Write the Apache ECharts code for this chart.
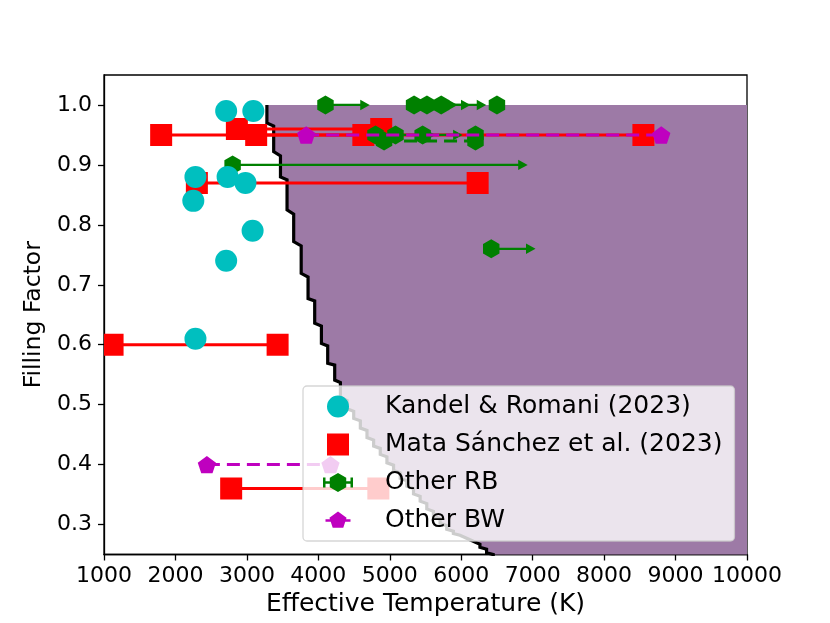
<!DOCTYPE html>
<html><head><meta charset="utf-8">
<script src="https://cdn.jsdelivr.net/npm/echarts@6/dist/echarts.min.js"></script>
<style>html,body{margin:0;padding:0;background:#fff}#c{width:830px;height:623px}</style>
</head><body><div id="c"></div>
<script>
// ---- tick labels ----
const xTicks = [1000, 2000, 3000, 4000, 5000, 6000, 7000, 8000, 9000, 10000];
const yTicks = [0.3, 0.4, 0.5, 0.6, 0.7, 0.8, 0.9, 1.0];

// ---- Kandel & Romani (2023) ----
const kandelT = [2710, 3090, 2280, 2730, 2980, 2250, 3080, 2710, 2280];
const kandelF = [0.99, 0.99, 0.88, 0.88, 0.87, 0.84, 0.79, 0.74, 0.61];

// ---- Mata Sánchez et al. (2023): temperature ranges ----
const mataTlo = [1800, 3130, 2860, 2300, 1120, 2780];
const mataThi = [8550, 4630, 4880, 6230, 3430, 4840];
const mataF   = [0.95, 0.95, 0.96, 0.87, 0.60, 0.36];

// ---- Other RB: lower limits (arrows) ----
const rbArrowT   = [4100, 5340, 5520, 5720, 2800, 6420, 5080, 5460];
const rbArrowEnd = [4720, 5950, 6130, 6350, 6930, 7040, 5640, 6020];
const rbArrowF   = [1.00, 1.00, 1.00, 1.00, 0.90, 0.76, 0.95, 0.95];
// Other RB: single points
const rbPointT = [6500, 4800, 6200];
const rbPointF = [1.00, 0.95, 0.95];
// Other RB: dashed range
const rbDashLo = [4920];
const rbDashHi = [6200];
const rbDashF  = [0.94];

// ---- Other BW: dashed ranges ----
const bwTlo = [3830, 2440];
const bwThi = [8800, 4170];
const bwF   = [0.95, 0.40];

// ---- allowed-region boundary (staircase) ----
const stepT      = [3280, 3375, 3470, 3562, 3655, 3760, 3856, 3949, 4043, 4131, 4229, 4309, 4402, 4495, 4588, 4681, 4774, 4867, 4960, 5053, 5146, 5239, 5332, 5425, 5518, 5611, 5704, 5797, 5890, 5983, 6076, 6169, 6262, 6355, 6448];
const stepTop    = [1.000, 0.965, 0.915, 0.875, 0.818, 0.765, 0.713, 0.673, 0.631, 0.598, 0.566, 0.537, 0.507, 0.489, 0.473, 0.457, 0.441, 0.427, 0.413, 0.399, 0.386, 0.373, 0.360, 0.347, 0.335, 0.322, 0.310, 0.298, 0.289, 0.282, 0.277, 0.272, 0.267, 0.259, 0.250];
const stepBottom = [0.970, 0.922, 0.880, 0.825, 0.772, 0.719, 0.677, 0.636, 0.602, 0.569, 0.541, 0.512, 0.493, 0.477, 0.461, 0.445, 0.431, 0.417, 0.403, 0.390, 0.377, 0.364, 0.351, 0.339, 0.326, 0.314, 0.302, 0.292, 0.285, 0.279, 0.274, 0.269, 0.262, 0.253, 0.240];
const regionTmax = 10000;
const regionFmax = 1.0;

// ---- colours ----
const C_CYAN = '#00bfbf', C_RED = '#ff0000', C_GREEN = '#008000', C_MAG = '#bf00bf';
const C_FILL = '#9d7aa6';
const FONT = 'DejaVu Sans';

const boundary = [];
stepT.forEach((t, i) => { boundary.push([t, stepTop[i]]); boundary.push([t, stepBottom[i]]); });

function hexPts(cx, cy, r) {
  const p = [];
  for (let k = 0; k < 6; k++) { const a = (-90 + 60 * k) * Math.PI / 180; p.push([cx + r * Math.cos(a), cy + r * Math.sin(a)]); }
  return p;
}
function pentPts(cx, cy, r) {
  const p = [];
  for (let k = 0; k < 5; k++) { const a = (-90 + 72 * k) * Math.PI / 180; p.push([cx + r * Math.cos(a), cy + r * Math.sin(a)]); }
  return p;
}

// legend icons (box 67x24, marker centred at x=25)
const corners = 'M0,0 L0.01,0 L0,0.01 Z M67,24 L66.99,24 L67,23.99 Z ';
const iconCircle = 'path://' + corners + 'M14 12 A11 11 0 1 0 36 12 A11 11 0 1 0 14 12 Z';
const iconSquare = 'path://' + corners + 'M14,1 L36,1 L36,23 L14,23 Z';
const iconRB = 'path://' + corners +
  'M25,2.5 L33.23,7.25 L33.23,16.75 L25,21.5 L16.77,16.75 L16.77,7.25 Z ' +
  'M11,10.75 L39,10.75 L39,13.25 L11,13.25 Z ' +
  'M10,7 L12.5,7 L12.5,17 L10,17 Z M37.5,7 L40,7 L40,17 L37.5,17 Z';
const iconBW = 'path://' + corners +
  'M25,3 L33.56,9.22 L30.29,19.28 L19.71,19.28 L16.44,9.22 Z ' +
  'M12.5,10.75 L37.5,10.75 L37.5,13.25 L12.5,13.25 Z';

const chart = echarts.init(document.getElementById('c'), null, { renderer: 'canvas' });

const option = {
  animation: false,
  backgroundColor: '#ffffff',
  textStyle: { fontFamily: FONT },
  grid: { left: 104, right: 83, top: 75, bottom: 68.5, show: true, borderColor: '#000', borderWidth: 1.3, backgroundColor: 'transparent' },
  xAxis: {
    type: 'value', min: xTicks[0], max: xTicks[xTicks.length - 1], interval: 1000,
    axisLine: { show: true, onZero: false, lineStyle: { color: '#000', width: 1.3 } },
    axisTick: { show: true, length: 6, lineStyle: { color: '#000', width: 1.3 } },
    axisLabel: { color: '#000', fontSize: 22, fontFamily: FONT, margin: 11, formatter: v => String(v) },
    splitLine: { show: false },
    name: 'Effective Temperature (K)', nameLocation: 'middle', nameGap: 35,
    nameTextStyle: { color: '#000', fontSize: 25, fontFamily: FONT }
  },
  yAxis: {
    type: 'value', min: 0.25, max: 1.05,
    axisLine: { show: true, onZero: false, lineStyle: { color: '#000', width: 1.3 } },
    axisTick: { show: true, length: 6, customValues: yTicks, lineStyle: { color: '#000', width: 1.3 } },
    axisLabel: { color: '#000', fontSize: 22, fontFamily: FONT, margin: 12, customValues: yTicks, formatter: v => Number(v).toFixed(1) },
    splitLine: { show: false },
    name: 'Filling Factor', nameLocation: 'middle', nameGap: 54,
    nameTextStyle: { color: '#000', fontSize: 23.5, fontFamily: FONT }
  },
  legend: {
    orient: 'vertical', left: 303, top: 386, z: 20,
    padding: [8, 12, 8, 10], itemGap: 13, itemWidth: 67, itemHeight: 24,
    backgroundColor: 'rgba(255,255,255,0.8)', borderColor: 'rgba(204,204,204,0.8)', borderWidth: 1.3, borderRadius: 4,
    selectedMode: false,
    textStyle: { color: '#000', fontSize: 25, fontFamily: FONT, lineHeight: 24 },
    data: [
      { name: 'Kandel & Romani (2023)', icon: iconCircle, itemStyle: { color: C_CYAN } },
      { name: 'Mata Sánchez et al. (2023)', icon: iconSquare, itemStyle: { color: C_RED } },
      { name: 'Other RB', icon: iconRB, itemStyle: { color: C_GREEN } },
      { name: 'Other BW', icon: iconBW, itemStyle: { color: C_MAG } }
    ]
  },
  series: [
    { // allowed region fill
      type: 'custom', name: 'region', z: 1, clip: true, silent: true,
      data: [[regionTmax, regionFmax]],
      renderItem: (params, api) => {
        const pts = boundary.map(p => api.coord(p));
        pts.push(api.coord([regionTmax, stepBottom[stepBottom.length - 1]]));
        pts.push(api.coord([regionTmax, regionFmax]));
        return { type: 'polygon', shape: { points: pts }, style: { fill: C_FILL, stroke: null } };
      }
    },
    { // boundary line
      type: 'line', name: 'boundary', z: 2, clip: true, silent: true,
      data: boundary, showSymbol: false, symbol: 'none',
      lineStyle: { color: '#000', width: 3.2, join: 'miter' }
    },
    { // Mata Sánchez ranges
      type: 'custom', name: 'Mata Sánchez et al. (2023)', z: 3, clip: true,
      itemStyle: { color: C_RED },
      data: mataF.map((f, i) => [mataTlo[i], mataThi[i], f]),
      encode: { x: [0, 1], y: 2 },
      renderItem: (params, api) => {
        const a = api.coord([api.value(0), api.value(2)]);
        const b = api.coord([api.value(1), api.value(2)]);
        const s = 22;
        return { type: 'group', children: [
          { type: 'line', shape: { x1: a[0], y1: a[1], x2: b[0], y2: b[1] }, style: { stroke: C_RED, lineWidth: 3 } },
          { type: 'rect', shape: { x: a[0] - s / 2, y: a[1] - s / 2, width: s, height: s }, style: { fill: C_RED } },
          { type: 'rect', shape: { x: b[0] - s / 2, y: b[1] - s / 2, width: s, height: s }, style: { fill: C_RED } }
        ] };
      }
    },
    { // Other RB dashed range
      type: 'custom', name: 'Other RB', z: 4, clip: true,
      itemStyle: { color: C_GREEN },
      data: rbDashF.map((f, i) => [rbDashLo[i], rbDashHi[i], f]),
      encode: { x: [0, 1], y: 2 },
      renderItem: (params, api) => {
        const a = api.coord([api.value(0), api.value(2)]);
        const b = api.coord([api.value(1), api.value(2)]);
        return { type: 'group', children: [
          { type: 'line', shape: { x1: a[0], y1: a[1], x2: b[0], y2: b[1] }, style: { stroke: C_GREEN, lineWidth: 3, lineDash: [13, 7] } },
          { type: 'polygon', shape: { points: hexPts(a[0], a[1], 9.5) }, style: { fill: C_GREEN } },
          { type: 'polygon', shape: { points: hexPts(b[0], b[1], 9.5) }, style: { fill: C_GREEN } }
        ] };
      }
    },
    { // Other RB lower limits
      type: 'custom', name: 'Other RB', z: 4, clip: true,
      itemStyle: { color: C_GREEN },
      data: rbArrowF.map((f, i) => [rbArrowT[i], rbArrowEnd[i], f]),
      encode: { x: [0, 1], y: 2 },
      renderItem: (params, api) => {
        const a = api.coord([api.value(0), api.value(2)]);
        const b = api.coord([api.value(1), api.value(2)]);
        return { type: 'group', children: [
          { type: 'line', shape: { x1: a[0], y1: a[1], x2: b[0] - 4, y2: b[1] }, style: { stroke: C_GREEN, lineWidth: 2.3 } },
          { type: 'polygon', shape: { points: [[b[0], b[1]], [b[0] - 9.5, b[1] - 5.2], [b[0] - 9.5, b[1] + 5.2]] }, style: { fill: C_GREEN } },
          { type: 'polygon', shape: { points: hexPts(a[0], a[1], 9.5) }, style: { fill: C_GREEN } }
        ] };
      }
    },
    { // Other RB single points
      type: 'custom', name: 'Other RB', z: 4, clip: true,
      itemStyle: { color: C_GREEN },
      data: rbPointF.map((f, i) => [rbPointT[i], f]),
      renderItem: (params, api) => {
        const a = api.coord([api.value(0), api.value(1)]);
        return { type: 'polygon', shape: { points: hexPts(a[0], a[1], 9.5) }, style: { fill: C_GREEN } };
      }
    },
    { // Other BW ranges
      type: 'custom', name: 'Other BW', z: 5, clip: true,
      itemStyle: { color: C_MAG },
      data: bwF.map((f, i) => [bwTlo[i], bwThi[i], f]),
      encode: { x: [0, 1], y: 2 },
      renderItem: (params, api) => {
        const a = api.coord([api.value(0), api.value(2)]);
        const b = api.coord([api.value(1), api.value(2)]);
        return { type: 'group', children: [
          { type: 'line', shape: { x1: a[0], y1: a[1], x2: b[0], y2: b[1] }, style: { stroke: C_MAG, lineWidth: 3, lineDash: [13, 7] } },
          { type: 'polygon', shape: { points: pentPts(a[0], a[1] + 1, 9.6) }, style: { fill: C_MAG } },
          { type: 'polygon', shape: { points: pentPts(b[0], b[1] + 1, 9.6) }, style: { fill: C_MAG } }
        ] };
      }
    },
    { // Kandel & Romani
      type: 'scatter', name: 'Kandel & Romani (2023)', z: 6,
      symbol: 'circle', symbolSize: 22,
      itemStyle: { color: C_CYAN, opacity: 1 },
      data: kandelT.map((t, i) => [t, kandelF[i]])
    }
  ]
};
chart.setOption(option);
</script>
</body></html>
